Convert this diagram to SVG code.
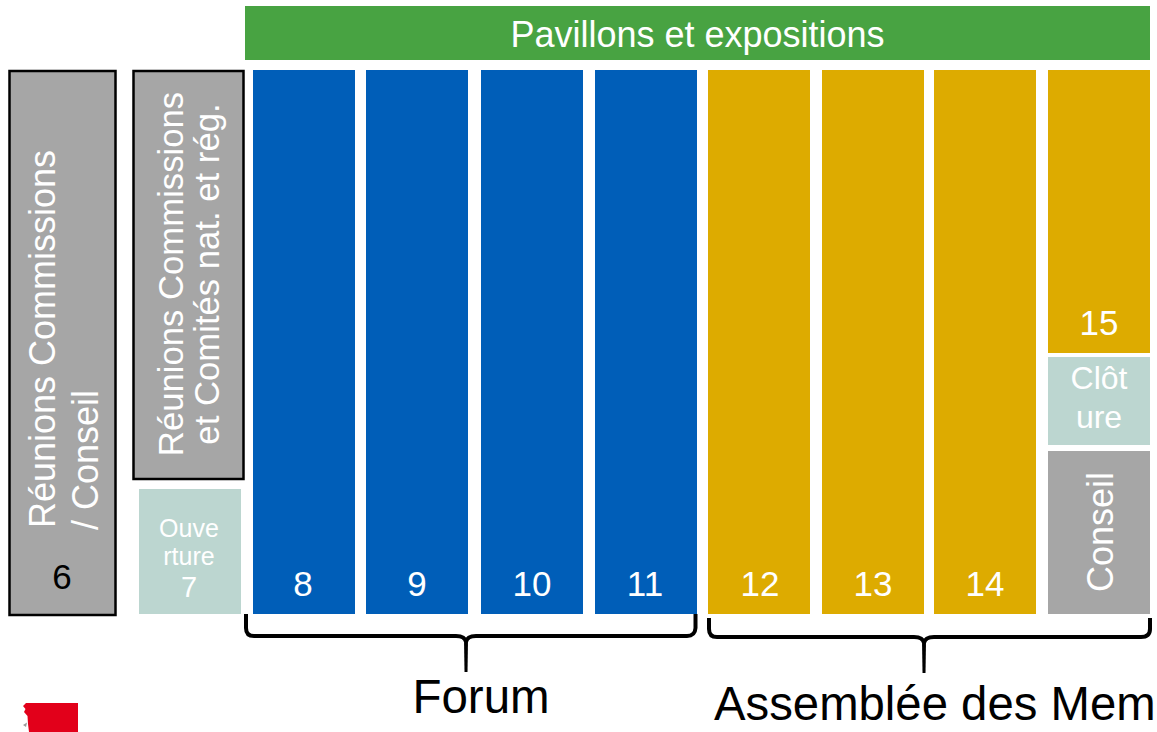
<svg xmlns="http://www.w3.org/2000/svg" width="1157" height="732" viewBox="0 0 1157 732">
<style>
text{font-family:"Liberation Sans",Arial,sans-serif;fill:#fff;text-anchor:middle}
.blue{fill:#005eb8}.gold{fill:#ddab00}.gray{fill:#a6a6a6}.mint{fill:#bcd6d0}
.out{stroke:#000;stroke-width:2.5}
.n{font-size:35px}
.brace{fill:none;stroke:#000;stroke-width:4}
.big{fill:#000}
</style>
<rect width="1157" height="732" fill="#fff"/>
<g id="pavillons"><rect x="245" y="6" width="905" height="54" fill="#48a342"/><text x="697.500" y="46.500" font-size="36">Pavillons et expositions</text></g>
<g id="day6"><rect class="gray out" x="9.500" y="71" width="106" height="544"/>
<text transform="translate(55 339) rotate(-90)" font-size="36">Réunions Commissions</text>
<text transform="translate(98 460) rotate(-90)" font-size="36">/ Conseil</text>
<text x="62" y="589" font-size="35" style="fill:#000">6</text></g>
<g id="day7-reunions"><rect class="gray out" x="133.500" y="71" width="110" height="408"/>
<text transform="translate(183 274) rotate(-90)" font-size="34.700">Réunions Commissions</text>
<text transform="translate(219 274) rotate(-90)" font-size="34.700">et Comités nat. et rég.</text></g>
<g id="ouverture"><rect class="mint" x="139" y="489" width="102" height="125"/>
<text x="189" y="537" font-size="25">Ouve</text><text x="189" y="565" font-size="25">rture</text><text x="189" y="597" font-size="29">7</text></g>
<g id="day8"><rect class="blue" x="253" y="70" width="102" height="544"/><text class="n" x="303" y="596">8</text></g>
<g id="day9"><rect class="blue" x="366" y="70" width="102" height="544"/><text class="n" x="417" y="596">9</text></g>
<g id="day10"><rect class="blue" x="481" y="70" width="102" height="544"/><text class="n" x="532" y="596">10</text></g>
<g id="day11"><rect class="blue" x="595" y="70" width="102" height="544"/><text class="n" x="645" y="596">11</text></g>
<g id="day12"><rect class="gold" x="708" y="70" width="102" height="544"/><text class="n" x="760" y="596">12</text></g>
<g id="day13"><rect class="gold" x="822" y="70" width="102" height="544"/><text class="n" x="873" y="596">13</text></g>
<g id="day14"><rect class="gold" x="934" y="70" width="102" height="544"/><text class="n" x="985" y="596">14</text></g>
<g id="day15"><rect class="gold" x="1048" y="70" width="102" height="283"/><text class="n" x="1099" y="335">15</text></g>
<g id="cloture"><rect class="mint" x="1048" y="357" width="102" height="88"/><text x="1099" y="389" font-size="32">Clôt</text><text x="1099" y="428" font-size="32">ure</text></g>
<g id="conseil"><rect class="gray" x="1048" y="451" width="102" height="163"/><text transform="translate(1112.500 532) rotate(-90)" font-size="36">Conseil</text></g>
<g id="connectors">
<path class="brace" d="M246 614V628Q246 636 254 636H456Q465 636 466 642Q467 636 476 636H687Q695 636 695.500 628V614"/>
<path d="M464 640H468L467.500 672H464.500Z"/>
<path class="brace" d="M709 618V629Q709 637 717 637H914Q923 637 924 643Q925 637 934 637H1141Q1150 637 1150 629V618"/>
<path d="M922 641H926L925.500 673H922.500Z"/>
</g>
<g id="forum"><text class="big" x="481" y="713" font-size="47.500">Forum</text></g>
<g id="assemblee"><text class="big" x="714" y="720" font-size="47.300" style="text-anchor:start">Assemblée des Mem</text></g>
<path id="logo" d="M26 703H78V732H29L28 724L27.500 716L24 712L25.500 709L23 706Z" fill="#e2001a"/>
<path d="M23 725L27 722.500L26 727Z" fill="#999"/>
</svg>
